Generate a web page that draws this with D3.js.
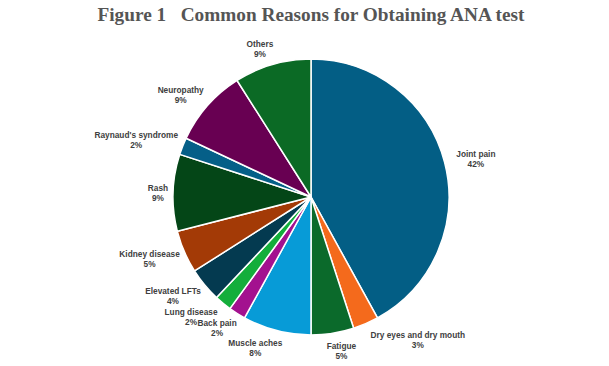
<!DOCTYPE html>
<html>
<head>
<meta charset="utf-8">
<script src="https://cdn.jsdelivr.net/npm/d3@7"></script>
<style>
  html, body { margin: 0; padding: 0; background: #ffffff; }
  svg { display: block; }
</style>
</head>
<body>
<svg id="chart" width="609" height="366"></svg>
<script>
const categories = ["Joint pain", "Dry eyes and dry mouth", "Fatigue", "Muscle aches", "Back pain",
  "Lung disease", "Elevated LFTs", "Kidney disease", "Rash", "Raynaud's syndrome", "Neuropathy", "Others"];
const values = [42, 3, 5, 8, 2, 2, 4, 5, 9, 2, 9, 9];
const percentLabels = ["42%", "3%", "5%", "8%", "2%", "2%", "4%", "5%", "9%", "2%", "9%", "9%"];
const colors = ["#035e85", "#f46a1c", "#0b6a2b", "#079bd7", "#a3118f", "#14ae3b",
  "#043a50", "#a33a06", "#044617", "#055f88", "#680052", "#0b6a25"];
const title = "Figure 1   Common Reasons for Obtaining ANA test";

const W = 609, H = 366;
const cx = 311, cy = 197, radius = 138;
const labelRRight = 150, labelRLeft = 143, labelRV = 150, lineH = 10, fontSize = 8.3;

const svg = d3.select("#chart");

svg.append("text")
  .attr("x", 311).attr("y", 21)
  .attr("text-anchor", "middle")
  .attr("font-family", "'Liberation Serif', 'DejaVu Serif', serif")
  .attr("font-weight", "bold")
  .attr("font-size", 19)
  .attr("fill", "#555555")
  .attr("textLength", 427)
  .attr("lengthAdjust", "spacingAndGlyphs")
  .style("white-space", "pre")
  .text(title);

const data = categories.map((c, i) => ({ name: c, value: values[i], pct: percentLabels[i], color: colors[i] }));

const pie = d3.pie().value(d => d.value).sort(null);
const arcs = pie(data);
const arc = d3.arc().innerRadius(0).outerRadius(radius);

const g = svg.append("g").attr("transform", `translate(${cx},${cy})`);

g.selectAll("path.slice")
  .data(arcs)
  .join("path")
  .attr("class", "slice")
  .attr("d", arc)
  .attr("fill", d => d.data.color)
  .attr("stroke", "#ffffff")
  .attr("stroke-width", 1.5)
  .attr("stroke-linejoin", "round");

const clamp = v => Math.max(-1, Math.min(1, v));

const labels = g.selectAll("g.label")
  .data(arcs)
  .join("g")
  .attr("class", "label");

const layout = [];
labels.each(function(d) {
  const sel = d3.select(this);
  const t1 = sel.append("text").text(d.data.name);
  const t2 = sel.append("text").text(d.data.pct);
  sel.selectAll("text")
    .attr("text-anchor", "middle")
    .attr("font-family", "'Liberation Sans', Arial, sans-serif")
    .attr("font-weight", "bold")
    .attr("font-size", fontSize)
    .attr("fill", "#404040");
  const w1 = t1.node().getComputedTextLength(), w2 = t2.node().getComputedTextLength();
  const w = Math.max(w1, w2);
  const h = lineH * 2;
  const mid = (d.startAngle + d.endAngle) / 2;
  const s = Math.sin(mid), c = Math.cos(mid);
  const px = (s < 0 ? labelRLeft : labelRRight) * s, py = -labelRV * c;
  const bx = px + (w / 2) * clamp(3 * s);
  const by = py + (h / 2) * (-c) * 0.5;
  layout.push({ t1, t2, w1, w2, bx, by });
});

// simple horizontal de-overlap between neighbouring labels
function lineBoxes(L) {
  return [
    { x0: L.bx - L.w1 / 2, x1: L.bx + L.w1 / 2, y0: L.by - 9, y1: L.by - 1 },
    { x0: L.bx - L.w2 / 2, x1: L.bx + L.w2 / 2, y0: L.by + 1, y1: L.by + 9 }
  ];
}
for (let iter = 0; iter < 5; iter++) {
  for (let i = 0; i < layout.length; i++) {
    const j = (i + 1) % layout.length;
    const A = layout[i], B = layout[j];
    let push = 0;
    for (const a of lineBoxes(A)) for (const b of lineBoxes(B)) {
      if (a.x0 < b.x1 && b.x0 < a.x1 && a.y0 < b.y1 && b.y0 < a.y1) {
        const ov = Math.min(a.x1 - b.x0, b.x1 - a.x0);
        push = Math.max(push, ov + 0.5);
      }
    }
    if (push > 0) {
      const dir = A.bx >= B.bx ? 1 : -1;
      A.bx += dir * push / 2;
      B.bx -= dir * push / 2;
    }
  }
}
layout.forEach(L => {
  L.t1.attr("x", L.bx).attr("y", L.by - 1.5);
  L.t2.attr("x", L.bx).attr("y", L.by + lineH - 1.5);
});
</script>
</body>
</html>
